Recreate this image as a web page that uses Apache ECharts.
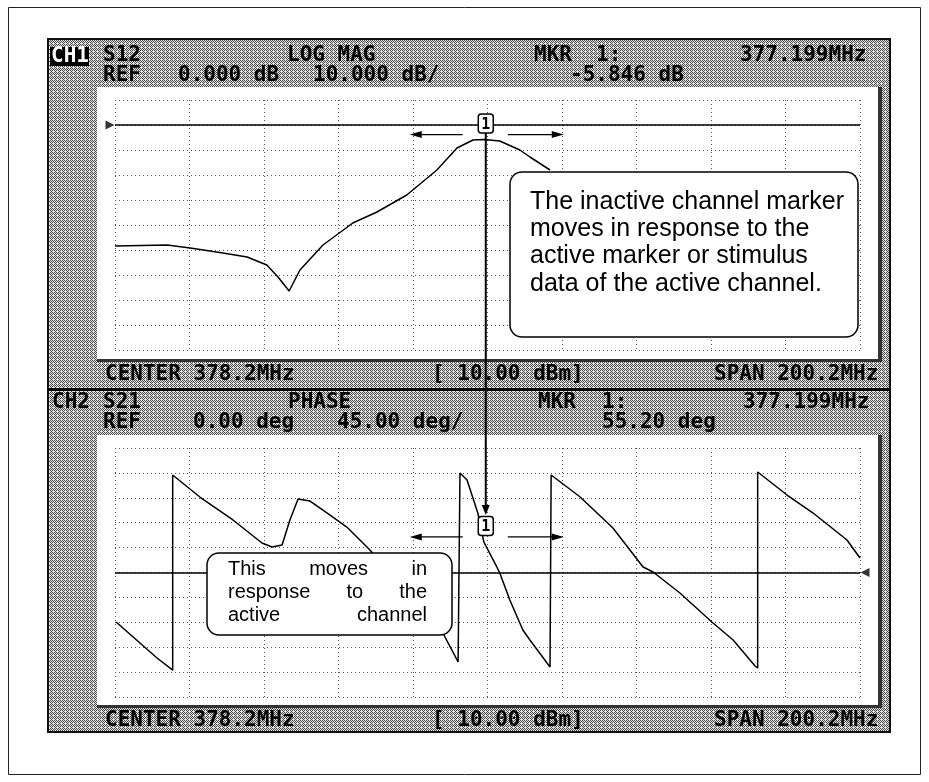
<!DOCTYPE html>
<html><head><meta charset="utf-8">
<script src="https://cdn.jsdelivr.net/npm/echarts@6/dist/echarts.min.js"></script>
<style>html,body{margin:0;padding:0;background:#fff}#c{width:929px;height:782px}</style>
</head><body><div id="c"></div>
<script>
// ---- data ----
const CENTER_MHZ = 378.2;
const SPAN_MHZ = 200.2;
const MARKER_MHZ = 377.199;
const MARKER_S12_DB = -5.846;
const MARKER_S21_DEG = 55.28;
// CH1 S12 log magnitude trace (dB), visible part
const magFreq = [278.1, 292.1, 298.3, 307.1, 313.6, 318.9, 321.9, 324.9, 327.8, 334.0, 342.0, 348.5, 356.5, 364.6, 370.0, 374.3, 377.2, 381.5, 386.9, 389.6, 395.0];
const magDb   = [-48.4, -48.0, -49.2, -51.2, -52.8, -56.0, -60.8, -66.4, -58.0, -48.0, -39.2, -34.8, -28.0, -18.0, -9.2, -6.0, -5.8, -6.4, -10.0, -12.8, -18.0];
// CH2 S21 phase trace (deg), wraps at +/-180
const phaseFreq = [278.4, 284.8, 289.4, 293.6, 293.6, 300.9, 309.8, 317.6, 320.3, 323.0, 325.1, 327.3, 330.5, 334.0, 340.4, 345.8, 346.6, 366.2, 370.3, 370.8, 370.8, 372.7, 375.6, 377.2, 380.7, 381.5, 384.2, 387.7, 389.6, 395.0, 395.3, 395.3, 403.1, 411.9, 420.0, 422.7, 429.9, 438.8, 444.2, 450.1, 450.8, 450.8, 458.7, 465.7, 474.8, 478.3];
const phaseDeg  = [-89.4, -127.4, -154.5, -176.5, 176.2, 136.4, 94.9, 53.3, 46.1, 49.7, 94.9, 132.8, 129.2, 112.9, 82.2, 46.1, 40.7, -109.3, -161.7, -165.3, 179.8, 167.1, 107.5, 55.3, 10.0, -0.9, -49.7, -103.9, -122.0, -170.8, -172.6, 176.2, 136.4, 80.4, 10.0, 0.9, -37.0, -91.2, -122.0, -169.0, -172.6, 181.6, 140.0, 107.5, 58.7, 26.2];
// scales
const magScale = {min: -90, max: 10, step: 10};      // REF 0 dB, 10 dB/div
const phaseScale = {min: -225, max: 225, step: 45};  // REF 0 deg, 45 deg/div
// texts
const ch1Row1 = [['S12',103],['LOG MAG',287],['MKR',534],['1:',596],['377.199MHz',740]];
const ch1Row2 = [['REF',103],['0.000 dB',178],['10.000 dB/',313],['-5.846 dB',570]];
const ch2Row1 = [['CH2',52],['S21',103],['PHASE',288],['MKR',538],['1:',602],['377.199MHz',743]];
const ch2Row2 = [['REF',103],['0.00 deg',193],['45.00 deg/',337],['55.20 deg',602]];
const footer = [['CENTER 378.2MHz',105],['[ 10.00 dBm]',432],['SPAN 200.2MHz',714]];
const note1 = ['The inactive channel marker','moves in response to the','active marker or stimulus','data of the active channel.'];
const note2 = [['This','moves','in'],['response','to','the'],['active','channel']];

// ---- chart ----
const chart = echarts.init(document.getElementById('c'), null, {renderer: 'canvas', width: 929, height: 782});
const half = SPAN_MHZ / 2, divW = SPAN_MHZ / 10;
const off = f => Math.round((f - CENTER_MHZ) * 1000) / 1000;
const magData = magFreq.map((f, i) => [off(f), magDb[i]]);
const phaseData = phaseFreq.map((f, i) => [off(f), phaseDeg[i]]);
const split = {show: true, lineStyle: {color: '#555', width: 1, type: [1, 3]}};
function xAx(gi) { return {type: 'value', gridIndex: gi, min: -half, max: half, interval: divW, axisLine: {show: false}, axisTick: {show: false}, axisLabel: {show: false}, splitLine: split}; }
function yAx(gi, s) { return {type: 'value', gridIndex: gi, min: s.min, max: s.max, interval: s.step, axisLine: {show: false}, axisTick: {show: false}, axisLabel: {show: false}, splitLine: split}; }
const refLine = {symbol: 'none', silent: true, label: {show: false}, lineStyle: {color: '#000', width: 1.6, type: 'solid'}, data: [{yAxis: 0}]};

chart.setOption({
  backgroundColor: '#fff',
  animation: false,
  grid: [
    {left: 115, top: 100, width: 745, height: 250},
    {left: 115, top: 448, width: 745, height: 249}
  ],
  xAxis: [xAx(0), xAx(1)],
  yAxis: [yAx(0, magScale), yAx(1, phaseScale)],
  series: [
    {type: 'line', xAxisIndex: 0, yAxisIndex: 0, data: magData, showSymbol: false, lineStyle: {color: '#000', width: 1.5}, markLine: refLine, z: 3},
    {type: 'line', xAxisIndex: 1, yAxisIndex: 1, data: phaseData, showSymbol: false, lineStyle: {color: '#000', width: 1.5}, markLine: refLine, z: 3},
    {type: 'scatter', xAxisIndex: 0, yAxisIndex: 0, data: [[-half, 0]], symbol: 'triangle', symbolSize: [9, 9], symbolRotate: -90, symbolOffset: [-5, 0], itemStyle: {color: '#000'}, silent: true, z: 4},
    {type: 'scatter', xAxisIndex: 1, yAxisIndex: 1, data: [[half, 0]], symbol: 'triangle', symbolSize: [9, 9], symbolRotate: 90, symbolOffset: [5, 0], itemStyle: {color: '#000'}, silent: true, z: 4}
  ]
});

// ---- decorations ----
function makePattern() {
  const c = document.createElement('canvas'); c.width = 4; c.height = 4;
  const ctx = c.getContext('2d');
  const bayer = [[0, 8, 2, 10], [12, 4, 14, 6], [3, 11, 1, 9], [15, 7, 13, 5]];
  for (let y = 0; y < 4; y++) for (let x = 0; x < 4; x++) {
    ctx.fillStyle = bayer[y][x] < 7 ? '#4c4c4c' : '#e2e2e2';
    ctx.fillRect(x, y, 1, 1);
  }
  return c;
}
const pat = {image: makePattern(), repeat: 'repeat'};
const MONO = 'bold 21px "DejaVu Sans Mono", "Liberation Mono", monospace';
function txt(s, x, y, font, fill, align, z) {
  return {type: 'text', x: x, y: y, z: z || 50, silent: true,
    style: {text: s, font: font || MONO, fill: fill || '#000', textAlign: align || 'left', align: align || 'left', textVerticalAlign: 'middle', verticalAlign: 'middle'}};
}
function rect(x, y, w, h, st, z, r) { return {type: 'rect', z: z, silent: true, shape: {x: x, y: y, width: w, height: h, r: r || 0}, style: st}; }
function line(x1, y1, x2, y2, w, z) { return {type: 'line', z: z || 60, silent: true, shape: {x1: x1, y1: y1, x2: x2, y2: y2}, style: {stroke: '#000', lineWidth: w || 1.3}}; }
function tri(points, z) { return {type: 'polygon', z: z || 60, silent: true, shape: {points: points}, style: {fill: '#000'}}; }

const g = [];
// page frame
g.push(rect(8.5, 7.5, 912, 767, {fill: 'none', stroke: '#222', lineWidth: 1}, -20));
// screen background
g.push(rect(48, 39, 842, 693, {fill: pat}, -19));
g.push(rect(48, 39, 842, 350, {fill: 'none', stroke: '#111', lineWidth: 2}, -17));
g.push(rect(48, 389, 842, 343, {fill: 'none', stroke: '#111', lineWidth: 2}, -17));
g.push(line(48, 389.5, 890, 389.5, 3, -16));
// white plot areas with shadow
g.push(rect(97, 87, 785, 275, {fill: '#333'}, -15));
g.push(rect(97, 87, 781, 272, {fill: '#fff'}, -14));
g.push(rect(97, 435, 785, 273, {fill: '#333'}, -15));
g.push(rect(97, 435, 781, 270, {fill: '#fff'}, -14));
// headers
g.push(rect(50, 47, 39, 19, {fill: '#000'}, 40));
g.push(txt('CH1', 51, 57, MONO, '#fff'));
ch1Row1.forEach(t => g.push(txt(t[0], t[1], 56)));
ch1Row2.forEach(t => g.push(txt(t[0], t[1], 76)));
footer.forEach(t => g.push(txt(t[0], t[1], 375)));
ch2Row1.forEach(t => g.push(txt(t[0], t[1], 403)));
ch2Row2.forEach(t => g.push(txt(t[0], t[1], 423)));
footer.forEach(t => g.push(txt(t[0], t[1], 721)));

// markers
const pT = chart.convertToPixel({seriesIndex: 0}, [off(MARKER_MHZ), MARKER_S12_DB]);
const pB = chart.convertToPixel({seriesIndex: 1}, [off(MARKER_MHZ), MARKER_S21_DEG]);
function markerBox(p) {
  const cx = p[0] + 2, cy = p[1] - 16;
  g.push(rect(cx - 7.5, cy - 9.5, 15, 19, {fill: '#fff', stroke: '#000', lineWidth: 1.5}, 70, 3));
  g.push(txt('1', cx, cy + 1, 'bold 15px "DejaVu Sans Mono", monospace', '#000', 'center', 71));
  const ay = p[1] - 5;
  g.push(line(cx - 23, ay, cx - 66, ay, 1.3));
  g.push(tri([[cx - 76, ay], [cx - 64, ay - 3.5], [cx - 64, ay + 3.5]]));
  g.push(line(cx + 22, ay, cx + 68, ay, 1.3));
  g.push(tri([[cx + 78, ay], [cx + 66, ay - 3.5], [cx + 66, ay + 3.5]]));
  return [cx, cy];
}
const mT = markerBox(pT), mB = markerBox(pB);
g.push(line(mT[0], mT[1] + 9.5, mB[0], mB[1] - 20, 2));
g.push(tri([[mB[0], mB[1] - 11], [mB[0] - 4, mB[1] - 21], [mB[0] + 4, mB[1] - 21]]));

// callout boxes
g.push(rect(510, 172, 348, 165, {fill: '#fff', stroke: '#000', lineWidth: 1.5}, 80, 12));
const SANS1 = '25px "Liberation Sans", Arial, sans-serif';
note1.forEach((s, i) => g.push(txt(s, 530, 202 + i * 27.3, SANS1, '#000', 'left', 81)));
g.push(rect(207, 553, 245, 82, {fill: '#fff', stroke: '#000', lineWidth: 1.5}, 80, 12));
const SANS2 = '20px "Liberation Sans", Arial, sans-serif';
const mctx = document.createElement('canvas').getContext('2d');
mctx.font = SANS2;
const jx0 = 228, jx1 = 427;
note2.forEach((words, i) => {
  const ws = words.map(w => mctx.measureText(w).width);
  const total = ws.reduce((a, b) => a + b, 0);
  const gap = (jx1 - jx0 - total) / (words.length - 1);
  let x = jx0;
  words.forEach((w, k) => { g.push(txt(w, x, 569 + i * 23.3, SANS2, '#000', 'left', 81)); x += ws[k] + gap; });
});

chart.setOption({graphic: {elements: g}});
</script>
</body></html>
